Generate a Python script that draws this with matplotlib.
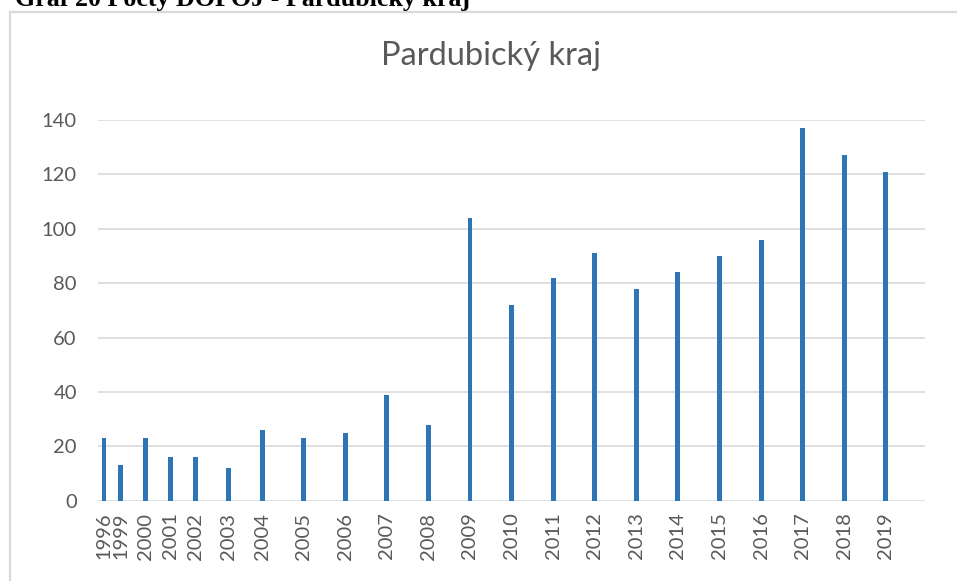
import numpy as np
import matplotlib
matplotlib.use('Agg')
import matplotlib.pyplot as plt
from matplotlib.lines import Line2D

# data
years = ['1996', '1999', '2000', '2001', '2002', '2003', '2004', '2005', '2006', '2007',
         '2008', '2009', '2010', '2011', '2012', '2013', '2014', '2015', '2016', '2017',
         '2018', '2019']
counts = [23, 13, 23, 16, 16, 12, 26, 23, 25, 39,
          28, 104, 72, 82, 91, 78, 84, 90, 96, 137,
          127, 121]
y_ticks = [0, 20, 40, 60, 80, 100, 120, 140]

# spacing between neighbouring categories as in the original sheet (layout only)
gaps = [0.4, 0.6, 0.6, 0.6, 0.8, 0.8] + [1.0] * 15
x = np.concatenate([[0.0], np.cumsum(gaps)])

blue = '#2e75b6'
grid_c = '#d9d9d9'
text_c = '#595959'

plt.rcParams['font.family'] = ['Lato', 'DejaVu Sans']

fig = plt.figure(figsize=(9.57, 5.81), dpi=100)

# chart border (light frame, cut at right/bottom)
fig.add_artist(Line2D([10 / 957, 10 / 957], [0, 1 - 12 / 581], transform=fig.transFigure,
                      color=grid_c, lw=1.6))
fig.add_artist(Line2D([10 / 957, 1], [1 - 12 / 581, 1 - 12 / 581], transform=fig.transFigure,
                      color=grid_c, lw=1.6))

# document caption, cropped at top like in the screenshot
fig.text(15 / 957, 1 - 6 / 581, 'Graf 20 Počty DOPOJ - Pardubický kraj',
         family=['Liberation Serif', 'DejaVu Serif'], fontweight='bold',
         fontsize=18.7, color='black', ha='left', va='baseline')

ax = fig.add_axes([98.3 / 957, 1 - 500.7 / 581, (925 - 98.3) / 957, (500.7 - 120) / 581])
ax.bar(x, counts, width=0.12, color=blue, zorder=3)

ax.set_xlim(-0.137, 19.74)
ax.set_ylim(0, 140)
ax.set_yticks(y_ticks)
ax.set_xticks(x)
ax.set_xticklabels(years, rotation=90)
ax.tick_params(axis='both', length=0, labelsize=14.5, labelcolor=text_c)
ax.tick_params(axis='y', pad=15.5)
ax.tick_params(axis='x', pad=8.5)

ax.set_axisbelow(True)
ax.grid(axis='y', color=grid_c, lw=1.2)
for s in ax.spines.values():
    s.set_visible(False)

fig.text(491 / 957, 1 - 65 / 581, 'Pardubický kraj', fontsize=23.5, color=text_c,
         ha='center', va='baseline')

fig.savefig('out.png', dpi=100)
